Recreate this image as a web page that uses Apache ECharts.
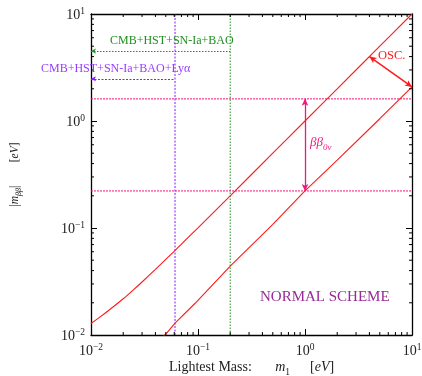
<!DOCTYPE html>
<html>
<head>
<meta charset="utf-8">
<script src="https://cdn.jsdelivr.net/npm/echarts@6/dist/echarts.min.js"></script>
<style>
  html, body { margin: 0; padding: 0; background: #fff; }
  #chart { width: 422px; height: 376px; }
</style>
</head>
<body>
<div id="chart"></div>
<script>
// Lightest neutrino mass m1 [eV] and the effective Majorana mass band (normal ordering)
const upperMass = [0.01, 0.012, 0.015, 0.02, 0.025, 0.03, 0.04, 0.05, 0.07, 0.1, 0.2, 0.5, 1, 2, 5, 10];
const upperMbb  = [0.0128, 0.0146, 0.0173, 0.0218, 0.0265, 0.0313, 0.041, 0.0508, 0.0707, 0.1005, 0.2, 0.5, 1, 2, 5, 10];
const lowerMass = [0.047, 0.05, 0.061, 0.094, 0.2, 0.5, 1, 2, 5, 10];
const lowerMbb  = [0.0097, 0.0102, 0.0129, 0.0198, 0.044, 0.108, 0.222, 0.43, 1.05, 2.08];

// Cosmological bounds on m1 and the double-beta sensitivity window
const boundCMB = 0.2;      // CMB+HST+SN-Ia+BAO
const boundLya = 0.061;    // CMB+HST+SN-Ia+BAO+Ly-alpha
const arrowCMB = 4.5;      // height of the CMB arrow
const arrowLya = 2.48;     // height of the Ly-alpha arrow
const bbUpper = 1.61;
const bbLower = 0.222;
const bbMass = 1;
const oscFrom = [4.0, 4.0];
const oscTo = [10, 2.08];

// Log-axis decades and minor-tick multipliers
const decades = [0.01, 0.1, 1];
const minorMult = [2, 3, 4, 5, 6, 7, 8, 9];
const axisMin = 0.01, axisMax = 10;

const serif = '"Liberation Serif", "DejaVu Serif", serif';
const red = '#ff1a1a';
const pink = '#f0167e';
const green = '#1f8f1f';
const violet = '#8a1cff';

const minorVals = [];
decades.forEach(d => minorMult.forEach(k => minorVals.push(+(d * k).toPrecision(3))));

function powLabel(v) {
  const e = Math.round(Math.log10(v));
  return '{b|10}{s|' + (e < 0 ? '\u2212' + (-e) : String(e)) + '}';
}
const tickRich = {
  b: { fontFamily: serif, fontSize: 14, color: '#222', verticalAlign: 'bottom' },
  s: { fontFamily: serif, fontSize: 9.5, color: '#222', padding: [0, 0, 6, 0], verticalAlign: 'bottom' }
};

// a dashed/dotted straight segment drawn as its own line series
function refLine(a, b, color, dash) {
  return {
    type: 'line', xAxisIndex: 0, yAxisIndex: 0, showSymbol: false, symbol: 'none',
    silent: true, clip: false, z: 3,
    data: [a, b],
    lineStyle: { color: color, width: 1, type: dash }
  };
}
// a straight segment with arrow heads, carried by an empty series' markLine
function arrowLine(a, b, color, dash, width, heads, size) {
  return {
    type: 'line', xAxisIndex: 0, yAxisIndex: 0, data: [], silent: true, z: 4,
    markLine: {
      silent: true, animation: false,
      label: { show: false },
      symbol: heads, symbolSize: size,
      itemStyle: { color: color },
      lineStyle: { color: color, type: dash, width: width },
      emphasis: { disabled: true },
      data: [[{ coord: a }, { coord: b }]]
    }
  };
}

const chart = echarts.init(document.getElementById('chart'), null, { renderer: 'canvas' });

const frameAxis = {
  type: 'log', logBase: 10, min: axisMin, max: axisMax,
  axisLine: { show: true, lineStyle: { color: '#000', width: 1.3 } },
  axisTick: { show: true, inside: true, length: 6, lineStyle: { color: '#000', width: 1 } },
  splitLine: { show: false },
  minorTick: { show: false }
};

const titleRich = {
  t: { fontFamily: serif, fontSize: 14, fill: '#222', verticalAlign: 'bottom' },
  i: { fontFamily: serif, fontSize: 14, fontStyle: 'italic', fill: '#222', verticalAlign: 'bottom' },
  sub: { fontFamily: serif, fontSize: 9.5, fill: '#222', padding: [0, 0, -3, 0], verticalAlign: 'bottom' }
};

chart.setOption({
  animation: false,
  backgroundColor: '#fff',
  grid: { left: 91, top: 14, width: 321, height: 321, containLabel: false, outerBoundsMode: 'none' },
  xAxis: [
    Object.assign({}, frameAxis, {
      position: 'bottom',
      axisLabel: { formatter: powLabel, rich: tickRich, margin: 7 }
    }),
    Object.assign({}, frameAxis, { position: 'top', axisLabel: { show: false } })
  ],
  yAxis: [
    Object.assign({}, frameAxis, {
      position: 'left',
      axisLabel: { formatter: powLabel, rich: tickRich, margin: 6 },
      name: '{t||}{i|m}{sub|\u03b2\u03b2}{t||}       {t|[}{i|eV}{t|]}',
      nameLocation: 'middle', nameGap: 70, nameRotate: 90,
      nameTextStyle: {
        rich: {
          t: { fontFamily: serif, fontSize: 11.5, color: '#222', verticalAlign: 'bottom' },
          i: { fontFamily: serif, fontSize: 11.5, fontStyle: 'italic', color: '#222', verticalAlign: 'bottom' },
          sub: { fontFamily: serif, fontSize: 8, fontStyle: 'italic', color: '#222', padding: [0, 0, -2, 0], verticalAlign: 'bottom' }
        }
      }
    }),
    Object.assign({}, frameAxis, { position: 'right', axisLabel: { show: false } })
  ],
  series: [
    // bounds on the lightest mass
    refLine([boundCMB, axisMin], [boundCMB, axisMax], green, [1.5, 1.5]),
    refLine([boundLya, axisMin], [boundLya, axisMax], violet, [2, 1.5]),
    // double-beta window
    refLine([axisMin, bbUpper], [axisMax, bbUpper], pink, [2, 1]),
    refLine([axisMin, bbLower], [axisMax, bbLower], pink, [2, 1]),
    // cosmological arrows pointing to smaller masses
    arrowLine([axisMin, arrowCMB], [boundCMB, arrowCMB], green, [1.5, 1.5], 1.2, ['arrow', 'none'], [4, 5]),
    arrowLine([axisMin, arrowLya], [boundLya, arrowLya], violet, [2, 1.5], 1.2, ['arrow', 'none'], [4, 5]),
    // sensitivity and oscillation spread
    arrowLine([bbMass, bbUpper], [bbMass, bbLower], pink, 'solid', 1.3, ['arrow', 'arrow'], [5, 7]),
    arrowLine(oscFrom, oscTo, red, 'solid', 1.5, ['arrow', 'arrow'], [5, 7]),
    {
      // upper edge of the band
      type: 'line', xAxisIndex: 0, yAxisIndex: 0, showSymbol: false, clip: true, z: 5,
      smooth: 0.35,
      data: upperMass.map((m, i) => [m, upperMbb[i]]),
      lineStyle: { color: red, width: 1.1 }
    },
    {
      // lower edge of the band
      type: 'line', xAxisIndex: 0, yAxisIndex: 0, showSymbol: false, clip: true, z: 5,
      data: lowerMass.map((m, i) => [m, lowerMbb[i]]),
      lineStyle: { color: red, width: 1.1 }
    },
    {
      // logarithmic minor ticks on all four sides of the frame
      type: 'custom', xAxisIndex: 0, yAxisIndex: 0, silent: true, clip: false, z: 6,
      data: minorVals.map(v => [v, v]),
      renderItem: function (params, api) {
        const v = api.value(0);
        const bx = api.coord([v, axisMin]);
        const tx = api.coord([v, axisMax]);
        const ly = api.coord([axisMin, v]);
        const ry = api.coord([axisMax, v]);
        const st = { stroke: '#000', lineWidth: 1 };
        const L = 3;
        return {
          type: 'group',
          children: [
            { type: 'line', shape: { x1: bx[0], y1: bx[1], x2: bx[0], y2: bx[1] - L }, style: st },
            { type: 'line', shape: { x1: tx[0], y1: tx[1], x2: tx[0], y2: tx[1] + L }, style: st },
            { type: 'line', shape: { x1: ly[0], y1: ly[1], x2: ly[0] + L, y2: ly[1] }, style: st },
            { type: 'line', shape: { x1: ry[0], y1: ry[1], x2: ry[0] - L, y2: ry[1] }, style: st }
          ]
        };
      }
    }
  ],
  graphic: [
    { type: 'text', left: 169, top: 360, z: 20,
      style: { text: '{t|Lightest Mass:}       {i|m}{sub|1}      {t|[}{i|eV}{t|]}', rich: titleRich } },
    { type: 'text', left: 110, top: 35, z: 20,
      style: { text: 'CMB+HST+SN-Ia+BAO', font: '12px ' + serif, fill: green } },
    { type: 'text', left: 41, top: 63, z: 20,
      style: { text: 'CMB+HST+SN-Ia+BAO+Ly\u03b1', font: '12px ' + serif, fill: '#9a3cff' } },
    { type: 'text', left: 378, top: 49, z: 20,
      style: { text: 'OSC.', font: '12.5px ' + serif, fill: red } },
    { type: 'text', left: 310, top: 136, z: 20,
      style: {
        text: '{g|\u03b2\u03b2}{s|0\u03bd}',
        rich: {
          g: { fontFamily: serif, fontSize: 13, fontStyle: 'italic', fill: pink, verticalAlign: 'bottom' },
          s: { fontFamily: serif, fontSize: 9, fontStyle: 'italic', fill: pink, padding: [0, 0, -3, 0], verticalAlign: 'bottom' }
        }
      } },
    { type: 'text', left: 260, top: 290, z: 20,
      style: { text: 'NORMAL SCHEME', font: '15px ' + serif, fill: '#962b96' } }
  ]
});
</script>
</body>
</html>
